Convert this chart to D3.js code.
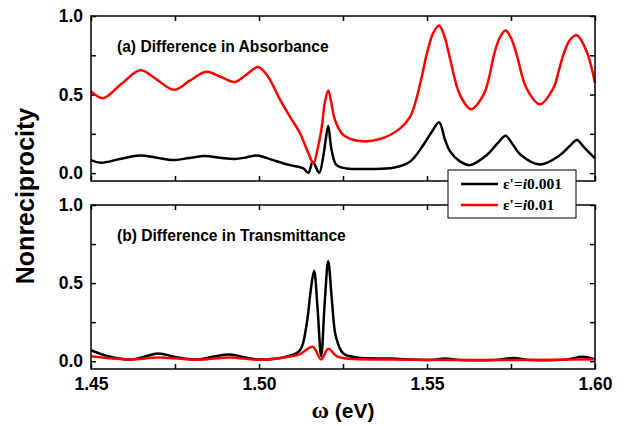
<!DOCTYPE html>
<html lang="en">
<head>
    <meta charset="UTF-8" />
    <title>Nonreciprocity</title>
    <script src="https://cdn.jsdelivr.net/npm/d3@7"></script>
    <style>
        body { margin: 0; background: #fff; }
        svg text { font-family: "Liberation Sans", Arial, sans-serif; font-weight: bold; }
        .serif { font-family: "Liberation Serif", "Times New Roman", serif; }
    </style>
</head>
<body>
    <svg width="627" height="426"></svg>
    <script>
        // (a) difference in absorbance, eps' = i0.001
        const absLowW = [1.4500, 1.4530, 1.4586, 1.4646, 1.4696, 1.4744, 1.4792, 1.4839, 1.4884, 1.4928, 1.4961, 1.4991,
            1.5003, 1.5042, 1.5092, 1.5132, 1.5147, 1.5160, 1.5179, 1.5191, 1.5199, 1.5206, 1.5216, 1.5231, 1.5261,
            1.5330, 1.5400, 1.5449, 1.5489, 1.5515, 1.5536, 1.5554, 1.5568, 1.5598, 1.5628, 1.5678, 1.5712, 1.5734,
            1.5753, 1.5777, 1.5836, 1.5896, 1.5926, 1.5946, 1.5967, 1.6000];
        const absLow = [0.083, 0.066, 0.090, 0.113, 0.098, 0.083, 0.096, 0.109, 0.098, 0.090, 0.100, 0.113,
            0.109, 0.083, 0.051, 0.030, 0.002, 0.072, 0.002, 0.104, 0.220, 0.300, 0.147, 0.051, 0.030,
            0.027, 0.034, 0.072, 0.179, 0.265, 0.324, 0.210, 0.140, 0.075, 0.051, 0.115, 0.195, 0.238,
            0.190, 0.120, 0.055, 0.115, 0.175, 0.211, 0.165, 0.094];

        // (a) difference in absorbance, eps' = i0.01
        const absHighW = [1.4500, 1.4536, 1.4589, 1.4647, 1.4696, 1.4747, 1.4795, 1.4843, 1.4884, 1.4928, 1.4961, 1.4997,
            1.5018, 1.5033, 1.5063, 1.5092, 1.5122, 1.5147, 1.5162, 1.5174, 1.5187, 1.5196, 1.5206, 1.5215, 1.5226,
            1.5251, 1.5301, 1.5360, 1.5420, 1.5450, 1.5469, 1.5485, 1.5499, 1.5518, 1.5536, 1.5552, 1.5568, 1.5598,
            1.5631, 1.5668, 1.5685, 1.5697, 1.5716, 1.5734, 1.5750, 1.5767, 1.5796, 1.5836, 1.5876, 1.5892, 1.5906,
            1.5926, 1.5946, 1.5975, 1.6000];
        const absHigh = [0.520, 0.477, 0.565, 0.654, 0.595, 0.530, 0.590, 0.645, 0.615, 0.580, 0.625, 0.675,
            0.640, 0.594, 0.466, 0.360, 0.254, 0.126, 0.062, 0.150, 0.296, 0.450, 0.526, 0.450, 0.339,
            0.243, 0.204, 0.217, 0.285, 0.360, 0.477, 0.620, 0.754, 0.890, 0.940, 0.870, 0.733, 0.498,
            0.407, 0.498, 0.610, 0.733, 0.860, 0.907, 0.860, 0.754, 0.541, 0.439, 0.541, 0.650, 0.754,
            0.850, 0.877, 0.775, 0.573];

        // (b) difference in transmittance, eps' = i0.001
        const transLowW = [1.4500, 1.4551, 1.4620, 1.4661, 1.4699, 1.4759, 1.4818, 1.4866, 1.4913, 1.4955, 1.4997,
            1.5086, 1.5122, 1.5142, 1.5154, 1.5164, 1.5174, 1.5185, 1.5196, 1.5206, 1.5217, 1.5229, 1.5251, 1.5291,
            1.5390, 1.5509, 1.5554, 1.5598, 1.5702, 1.5756, 1.5807, 1.5911, 1.5964, 1.6000];
        const transLow = [0.070, 0.032, 0.011, 0.030, 0.049, 0.024, 0.011, 0.030, 0.043, 0.025, 0.011,
            0.032, 0.070, 0.240, 0.455, 0.579, 0.348, 0.032, 0.390, 0.640, 0.390, 0.156, 0.049, 0.024,
            0.017, 0.008, 0.017, 0.008, 0.008, 0.020, 0.008, 0.010, 0.028, 0.012];

        // (b) difference in transmittance, eps' = i0.01
        const transHighW = [1.4500, 1.4620, 1.4699, 1.4818, 1.4913, 1.4997, 1.5092, 1.5122, 1.5160, 1.5185, 1.5206,
            1.5231, 1.5261, 1.5390, 1.5568, 1.5777, 1.6000];
        const transHigh = [0.032, 0.011, 0.024, 0.009, 0.024, 0.009, 0.030, 0.045, 0.092, 0.011, 0.079,
            0.032, 0.017, 0.011, 0.007, 0.008, 0.012];

        const xTicks = [1.45, 1.475, 1.50, 1.525, 1.55, 1.575, 1.60];
        const xLabels = ["1.45", "1.50", "1.55", "1.60"];
        const yTicks = [0, 0.25, 0.5, 0.75, 1.0];
        const yLabels = ["0.0", "0.5", "1.0"];
        const seriesNames = ["ε'=", "i", "0.001", "ε'=", "i", "0.01"];

        const svg = d3.select("svg");
        const x = d3.scaleLinear().domain([1.45, 1.60]).range([91, 595]);

        const panels = [
            { top: 16, bottom: 181, title: "(a) Difference in Absorbance", black: [absLowW, absLow], red: [absHighW, absHigh], labels: false },
            { top: 205, bottom: 369, title: "(b) Difference in Transmittance", black: [transLowW, transLow], red: [transHighW, transHigh], labels: true }
        ];

        const line = d3.line().curve(d3.curveCatmullRom.alpha(0.5));

        panels.forEach(p => {
            const y = d3.scaleLinear().domain([-0.05, 1.0]).range([p.bottom, p.top]);
            const g = svg.append("g");

            const fmtY = d => {
                const s = d3.format(".1f")(d);
                return yLabels.includes(s) ? s : "";
            };
            const fmtX = d => {
                const s = d3.format(".2f")(d);
                return p.labels && xLabels.includes(s) ? s : "";
            };

            const axes = [
                [d3.axisLeft(y).tickValues(yTicks).tickFormat(fmtY).tickPadding(8), `translate(91,0)`],
                [d3.axisRight(y).tickValues(yTicks).tickFormat(""), `translate(595,0)`],
                [d3.axisTop(x).tickValues(xTicks).tickFormat(""), `translate(0,${p.top})`],
                [d3.axisBottom(x).tickValues(xTicks).tickFormat(fmtX).tickPadding(9), `translate(0,${p.bottom})`]
            ];
            axes.forEach(([ax, tr]) => {
                const a = g.append("g").attr("transform", tr)
                    .call(ax.tickSizeInner(-5).tickSizeOuter(0));
                a.select(".domain").remove();
                a.selectAll("line").attr("stroke", "#000").attr("stroke-width", 1.5);
                a.selectAll("text").attr("font-size", 17.5).attr("fill", "#000")
                    .style("font-family", "'Liberation Sans', Arial, sans-serif").style("font-weight", "bold");
            });

            [[p.black, "#000"], [p.red, "#ff0000"]].forEach(([s, c]) => {
                const pts = s[0].map((w, i) => [x(w), y(s[1][i])]);
                g.append("path").attr("d", line(pts)).attr("fill", "none")
                    .attr("stroke", c).attr("stroke-width", 2.5);
            });

            g.append("rect").attr("x", 91).attr("y", p.top)
                .attr("width", 504).attr("height", p.bottom - p.top)
                .attr("fill", "none").attr("stroke", "#000").attr("stroke-width", 1.5);

            g.append("text").attr("x", 117).attr("y", p.top + 36)
                .attr("font-size", 15.6).text(p.title);
        });

        // legend
        const lg = svg.append("g");
        lg.append("rect").attr("x", 448).attr("y", 170).attr("width", 128).attr("height", 48)
            .attr("fill", "#fff").attr("stroke", "#000").attr("stroke-width", 1);
        [["#000", 184, 0], ["#ff0000", 205, 3]].forEach(([c, yy, k]) => {
            lg.append("line").attr("x1", 461).attr("x2", 498).attr("y1", yy).attr("y2", yy)
                .attr("stroke", c).attr("stroke-width", 2.5);
            const t = lg.append("text").attr("class", "serif").attr("x", 503).attr("y", yy + 5)
                .attr("font-size", 15.5);
            t.append("tspan").text(seriesNames[k]);
            t.append("tspan").attr("font-style", "italic").text(seriesNames[k + 1]);
            t.append("tspan").text(seriesNames[k + 2]);
        });

        // axis titles
        svg.append("text").attr("transform", "translate(34,196) rotate(-90)")
            .attr("text-anchor", "middle").attr("font-size", 25).text("Nonreciprocity");
        const xt = svg.append("text").attr("x", 343).attr("y", 418)
            .attr("text-anchor", "middle").attr("font-size", 21);
        xt.append("tspan").attr("class", "serif").attr("font-size", 24).text("ω");
        xt.append("tspan").text(" (eV)");
    </script>
</body>
</html>
